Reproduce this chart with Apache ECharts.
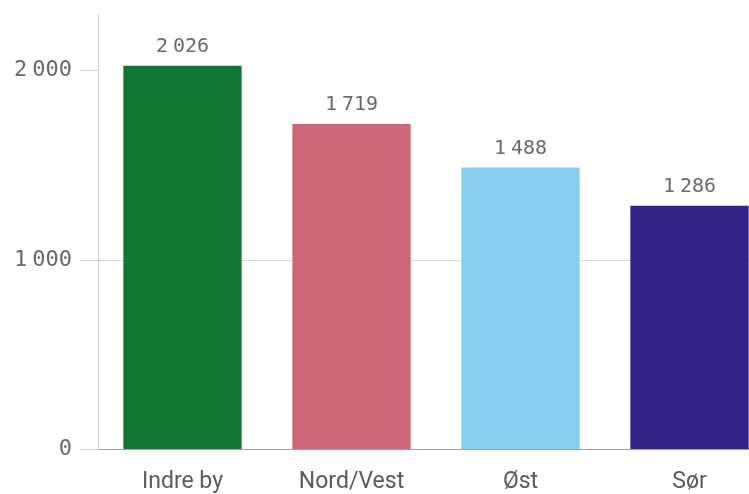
<!DOCTYPE html>
<html>
<head>
<meta charset="utf-8">
<script src="https://cdn.jsdelivr.net/npm/echarts@6/dist/echarts.min.js"></script>
<style>html,body{margin:0;padding:0;background:#fff;overflow:hidden}#c{width:774px;height:494px}</style>
</head>
<body>
<div id="c"></div>
<script>
const categories = ["Indre by", "Nord/Vest", "Øst", "Sør"];
const values = [2026, 1719, 1488, 1286];
const barColors = ["#117733", "#CC6677", "#88CCEE", "#332288"];
const yTicks = [0, 1000, 2000];

function fmt(v) {
  const parts = String(Math.round(v)).replace(/\B(?=(\d{3})+(?!\d))/g, ",").split(",");
  return parts.map(p => "{n|" + p + "}").join("{s| }");
}

const monoRich = size => ({
  n: {fontFamily: "DejaVu Sans Mono", fontSize: size, color: "#6a6a6a"},
  s: {fontFamily: "DejaVu Sans", fontSize: 16, color: "#6a6a6a"}
});

const chart = echarts.init(document.getElementById("c"), null, {renderer: "canvas"});
chart.setOption({
  animation: false,
  grid: {left: 98, right: 0, top: 14, bottom: 44, containLabel: false},
  xAxis: {
    type: "category",
    data: categories,
    axisLine: {show: true, lineStyle: {color: "#a0a0a0", width: 1}},
    axisTick: {show: false},
    axisLabel: {
      margin: 22,
      color: "#5a5a5a",
      fontFamily: "Roboto",
      fontSize: 23
    }
  },
  yAxis: {
    type: "value",
    min: 0,
    max: 2300,
    interval: 1000,
    axisLine: {show: true, lineStyle: {color: "#d6d6d6", width: 1}},
    axisTick: {show: true, length: 18, lineStyle: {color: "#d0d0d0"}, customValues: yTicks},
    axisLabel: {
      margin: 26,
      color: "#6a6a6a",
      fontFamily: "DejaVu Sans Mono",
      fontSize: 22,
      customValues: yTicks,
      formatter: fmt,
      rich: monoRich(22)
    },
    splitLine: {show: true, showMaxLine: false, lineStyle: {color: "#d9d9d9", width: 1}}
  },
  series: [{
    type: "bar",
    data: values.map((v, i) => ({value: v, itemStyle: {color: barColors[i]}})),
    barCategoryGap: "30%",
    label: {
      show: true,
      position: "top",
      distance: 9,
      color: "#6a6a6a",
      fontFamily: "DejaVu Sans Mono",
      fontSize: 20,
      formatter: p => fmt(p.value),
      rich: monoRich(20)
    }
  }]
});
</script>
</body>
</html>
